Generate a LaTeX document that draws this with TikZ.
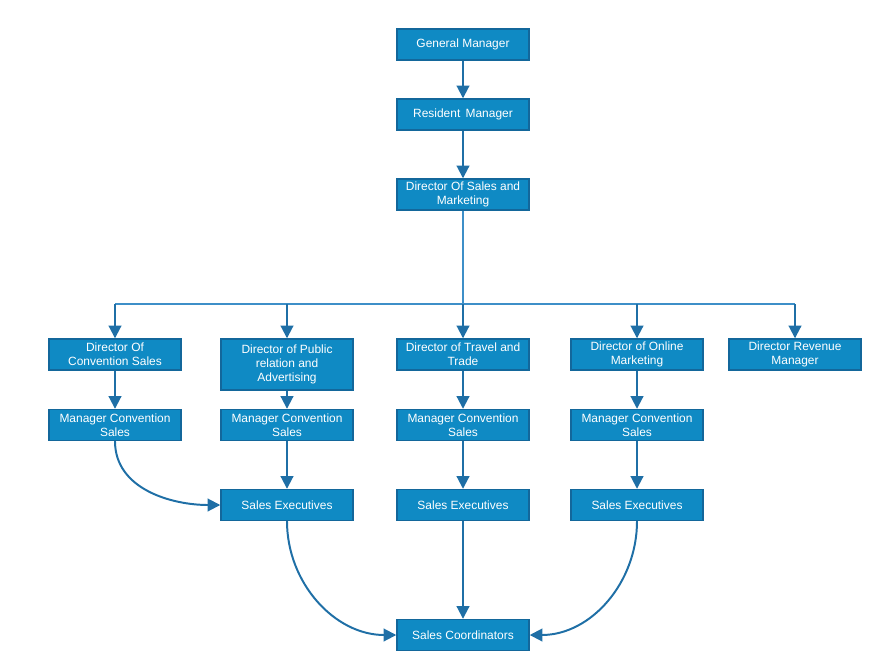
\documentclass[tikz,border=0pt]{standalone}
\usepackage{fontspec}
\setmainfont{Liberation Sans}
\usepackage{tikz}
\usetikzlibrary{positioning, arrows.meta, calc}
\definecolor{boxfill}{HTML}{0F8AC4}
\definecolor{boxline}{HTML}{13679B}
\definecolor{wire}{HTML}{1F6FA6}
\definecolor{buswire}{HTML}{3D8FC8}

\begin{document}
\begin{tikzpicture}[
        x=0.025cm, y=-0.025cm,
        role/.style={rectangle, draw=boxline, line width=1pt, fill=boxfill, text=white,
            minimum width=3.3cm, minimum height=0.775cm, inner sep=1pt, align=center,
            font=\fontsize{8.5pt}{10pt}\selectfont},
        link/.style={draw=wire, line width=1.4pt, -{Triangle[width=9pt, length=9pt]}},
        bus/.style={draw=buswire, line width=1.2pt}
    ]
    \useasboundingbox (0,0) rectangle (880,670);

    % top of the chain
    \node[role] (gm)  at (463, 44.5)  {General Manager};
    \node[role] (rm)  at (463, 114.5) {Resident\, Manager};
    \node[role] (dsm) at (463, 194.5) {Director Of Sales and\\Marketing};

    % directors under the bus
    \node[role] (dcs) at (115, 354.5) {Director Of\\Convention Sales};
    \node[role, minimum height=1.275cm] (dpr) at (287, 364.5) {Director of Public\\relation and\\Advertising};
    \node[role] (dtt) at (463, 354.5) {Director of Travel and\\Trade};
    \node[role] (dom) at (637, 354.5) {Director of Online\\Marketing};
    \node[role] (drm) at (795, 354.5) {Director Revenue\\Manager};

    % managers and executives
    \foreach \x/\name in {115/mcs1, 287/mcs2, 463/mcs3, 637/mcs4} {
        \node[role] (\name) at (\x, 425) {Manager Convention\\Sales};
    }
    \foreach \x/\name in {287/se1, 463/se2, 637/se3} {
        \node[role] (\name) at (\x, 505) {Sales Executives};
    }
    \node[role] (sc) at (463, 635) {Sales Coordinators};

    \coordinate (busL) at (115, 304);
    \coordinate (busR) at (795, 304);

    \draw[link] (gm) -- (rm);
    \draw[link] (rm) -- (dsm);
    \draw[bus] (dsm.south) -- (dsm.south |- busL);
    \draw[bus] (busL) -- (busR);
    \foreach \name in {dcs, dpr, dtt, dom, drm} {
        \draw[link] (\name.north |- busL) -- (\name.north);
    }
    \draw[link] (dcs) -- (mcs1);
    \draw[link] (dpr) -- (mcs2);
    \draw[link] (dtt) -- (mcs3);
    \draw[link] (dom) -- (mcs4);
    \draw[link] (mcs2) -- (se1);
    \draw[link] (mcs3) -- (se2);
    \draw[link] (mcs4) -- (se3);
    \draw[link] (mcs1.south) to[out=-90, in=180] (se1.west);
    \draw[link] (se2) -- (sc);
    \draw[link] (se1.south) to[out=-90, in=180] (sc.west);
    \draw[link] (se3.south) to[out=-90, in=0] (sc.east);
\end{tikzpicture}
\end{document}
